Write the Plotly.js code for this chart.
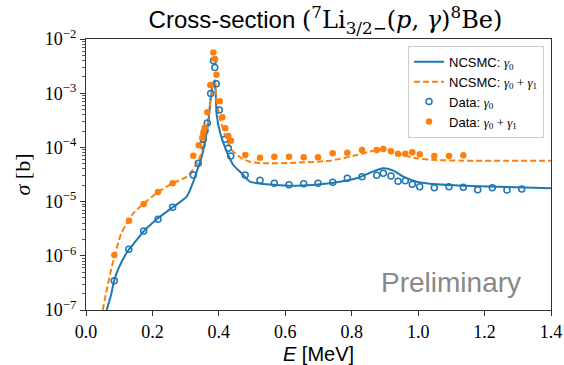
<!DOCTYPE html>
<html>
<head>
<meta charset="utf-8">
<script src="https://cdn.plot.ly/plotly-3.0.1.min.js"></script>
<style>html,body{margin:0;padding:0;background:#fff;}#chart{width:564px;height:365px;}</style>
</head>
<body>
<div id="chart"></div>
<script>
// NCSMC gamma0 curve
const curveG0_E = [0.0623,0.0753,0.0852,0.1003,0.1295,0.1406,0.1746,0.2168,0.2610,0.3032,0.3231,0.3333,0.3484,0.3583,0.3682,0.3763,0.3820,0.3869,0.3905,0.3935,0.4057,0.4237,0.4435,0.4688,0.4938,0.5338,0.6344,0.7346,0.8150,0.8551,0.8951,0.9252,0.9553,0.9957,1.0559,1.1360,1.2365,1.4000];
const curveG0_S = [1.0e-7,1.89e-7,3.58e-7,6.30e-7,1.32e-6,1.58e-6,2.87e-6,4.92e-6,7.85e-6,1.23e-5,2.33e-5,3.56e-5,6.73e-5,1.27e-4,2.98e-4,9.0e-4,1.45e-3,1.68e-3,1.0e-3,4.0e-4,1.69e-4,8.34e-5,4.73e-5,3.32e-5,2.33e-5,2.11e-5,1.96e-5,2.18e-5,2.69e-5,3.41e-5,4.11e-5,3.72e-5,2.88e-5,2.33e-5,2.08e-5,1.96e-5,1.88e-5,1.76e-5];

// NCSMC gamma0+gamma1 curve
const curveG01_E = [0.0503,0.0602,0.0804,0.1063,0.1424,0.1725,0.2168,0.2610,0.3032,0.3282,0.3432,0.3583,0.3682,0.3763,0.3830,0.3884,0.3925,0.4034,0.4185,0.4387,0.4688,0.4938,0.5338,0.6344,0.7346,0.8150,0.8752,0.9054,0.9355,0.9957,1.0559,1.1360,1.4000];
const curveG01_S = [1.0e-7,2.03e-7,7.28e-7,2.6e-6,6.08e-6,9.03e-6,1.50e-5,2.18e-5,2.88e-5,4.41e-5,6.73e-5,1.37e-4,3.44e-4,8.87e-4,1.5e-3,1.75e-3,7.5e-4,3.44e-4,1.69e-4,8.95e-5,6.29e-5,5.45e-5,5.09e-5,5.22e-5,5.69e-5,7.24e-5,8.95e-5,9.22e-5,7.78e-5,6.29e-5,5.86e-5,5.69e-5,5.69e-5];

// Data gamma0
const dataG0_E = [0.0852,0.1289,0.1737,0.2168,0.2610,0.3231,0.3381,0.3492,0.3532,0.3583,0.3652,0.3754,0.3839,0.3878,0.3920,0.4013,0.4185,0.4284,0.4357,0.4793,0.5239,0.5669,0.6112,0.6555,0.6985,0.7428,0.7867,0.8310,0.8752,0.8951,0.9183,0.9394,0.9613,0.9824,1.0047,1.0487,1.0929,1.1360,1.1793,1.2233,1.2675,1.3118];
const dataG0_S = [3.47e-7,1.32e-6,2.87e-6,4.71e-6,7.85e-6,3.10e-5,5.10e-5,1.11e-4,1.41e-4,2.03e-4,2.82e-4,9.86e-4,3.98e-3,2.98e-3,1.50e-3,4.90e-4,1.41e-4,9.62e-5,6.93e-5,3.10e-5,2.47e-5,2.18e-5,2.05e-5,2.14e-5,2.18e-5,2.27e-5,2.69e-5,2.88e-5,3.05e-5,3.32e-5,2.97e-5,2.37e-5,2.43e-5,2.09e-5,1.88e-5,1.80e-5,1.88e-5,1.84e-5,1.66e-5,1.80e-5,1.64e-5,1.71e-5];

// Data gamma0+gamma1
const dataG01_E = [0.0852,0.1295,0.1737,0.2168,0.2610,0.3231,0.3394,0.3502,0.3532,0.3574,0.3652,0.3743,0.3833,0.3884,0.3929,0.4026,0.4104,0.4194,0.4284,0.4366,0.4796,0.5239,0.5669,0.6112,0.6555,0.6985,0.7428,0.7867,0.8310,0.8752,0.8951,0.9183,0.9394,0.9613,0.9824,1.0047,1.0487,1.0929,1.1360];
const dataG01_S = [1.03e-6,4.45e-6,9.03e-6,1.50e-5,2.18e-5,7.03e-5,1.09e-4,1.53e-4,1.87e-4,2.31e-4,4.45e-4,1.42e-3,5.64e-3,4.28e-3,2.19e-3,7.10e-4,3.59e-4,2.25e-4,1.62e-4,1.33e-4,7.24e-5,6.46e-5,6.73e-5,6.73e-5,6.56e-5,6.56e-5,7.78e-5,7.98e-5,8.95e-5,8.95e-5,9.34e-5,8.47e-5,7.65e-5,7.65e-5,8.13e-5,7.46e-5,6.93e-5,6.93e-5,7.14e-5];

const xTickVals = [0.0,0.2,0.4,0.6,0.8,1.0,1.2,1.4];
const xTickText = ['0.0','0.2','0.4','0.6','0.8','1.0','1.2','1.4'];
const yTickVals = [1e-7,1e-6,1e-5,1e-4,1e-3,1e-2];
const yTickText = ['10<sup>−7</sup>','10<sup>−6</sup>','10<sup>−5</sup>','10<sup>−4</sup>','10<sup>−3</sup>','10<sup>−2</sup>'];

const BLUE = '#1f77b4', ORANGE = '#ff7f0e';
const SERIF = 'Liberation Serif';
const m = s => '<span style="font-family:' + SERIF + '">' + s + '</span>';
const mt = s => '<span style="font-family:DejaVu Serif">' + s + '</span>';
const g0 = m('<i>γ</i><sub>0</sub>');
const g01 = m('<i>γ</i><sub>0</sub> + <i>γ</i><sub>1</sub>');

const traces = [
  {x: curveG0_E, y: curveG0_S, type:'scatter', mode:'lines', name:'NCSMC: ' + g0,
   line:{color:BLUE, width:2, shape:'spline', smoothing:0.6}},
  {x: curveG01_E, y: curveG01_S, type:'scatter', mode:'lines', name:'NCSMC: ' + g01,
   line:{color:ORANGE, width:2, dash:'6px,3px', shape:'spline', smoothing:0.6}},
  {x: dataG0_E, y: dataG0_S, type:'scatter', mode:'markers', name:'Data: ' + g0,
   marker:{symbol:'circle-open', size:6, color:BLUE, line:{width:1.5, color:BLUE}}},
  {x: dataG01_E, y: dataG01_S, type:'scatter', mode:'markers', name:'Data: ' + g01,
   marker:{symbol:'circle', size:6.5, color:ORANGE}}
];

const axisColor = '#333333';
const layout = {
  width:564, height:365,
  margin:{l:86, r:13, t:39, b:55},
  paper_bgcolor:'#ffffff', plot_bgcolor:'#ffffff',
  showlegend:true,
  title:{
    text:'Cross-section ' + mt('(<sup>7</sup>Li<sub>3/2−</sub>(<i>p</i>, <i>γ</i>)<sup>8</sup>Be)'),
    font:{family:'Liberation Sans', size:24, color:'#000'},
    x:0.515, xref:'paper', xanchor:'center', y:0.945, yanchor:'middle'
  },
  xaxis:{
    range:[0,1.4], tickmode:'array', tickvals:xTickVals, ticktext:xTickText,
    ticks:'outside', ticklen:5, tickwidth:1, tickcolor:axisColor,
    showline:true, linecolor:axisColor, linewidth:1.2, mirror:true,
    showgrid:false, zeroline:false,
    tickfont:{family:SERIF, size:18, color:'#000'},
    title:{text:'<i>E</i> [MeV]', font:{family:'Liberation Sans', size:20, color:'#000'}, standoff:6}
  },
  yaxis:{
    type:'log', range:[-7,-2], tickmode:'array', tickvals:yTickVals, ticktext:yTickText,
    ticks:'outside', ticklen:5, tickwidth:1, tickcolor:axisColor,
    minor:{ticks:'outside', ticklen:3, tickwidth:0.8, tickcolor:axisColor, dtick:'D1', showgrid:false},
    showline:true, linecolor:axisColor, linewidth:1.2, mirror:true,
    showgrid:false, zeroline:false,
    tickfont:{family:SERIF, size:18, color:'#000'},
    title:{text:'<i>σ</i> [b]', font:{family:SERIF, size:22, color:'#000'}, standoff:8}
  },
  legend:{
    x:0.985, xanchor:'right', y:0.975, yanchor:'top',
    bgcolor:'rgba(255,255,255,0.85)', bordercolor:'#cccccc', borderwidth:1,
    font:{family:'Liberation Sans', size:13, color:'#000'},
    tracegroupgap:0, itemwidth:30
  },
  annotations:[{
    text:'Preliminary', xref:'paper', yref:'paper', x:0.94, y:0.103,
    xanchor:'right', yanchor:'middle', showarrow:false,
    font:{family:'Liberation Sans', size:28, color:'#888888'}
  }]
};

Plotly.newPlot('chart', traces, layout, {displayModeBar:false, staticPlot:true});
</script>
</body>
</html>
